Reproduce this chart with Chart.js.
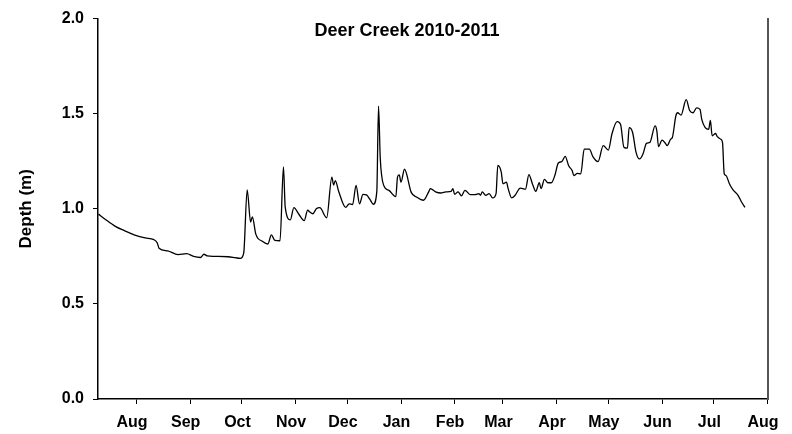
<!DOCTYPE html>
<html lang="en">
<head>
    <meta charset="UTF-8">
    <title>Deer Creek 2010-2011</title>
    <style>
        body {
            margin: 0;
            background: #fff;
        }
        .wrap {
            width: 792px;
            height: 434px;
        }
    </style>
</head>
<body>
    <div class="wrap">
        <canvas id="depth-chart"></canvas>
    </div>

    <script src="https://cdn.jsdelivr.net/npm/chart.js"></script>
    <script>
        // days counted from 1 Aug 2010
        const days = [
            -22, -18, -12, -7, -1, 5, 10, 12, 13, 18, 24, 29, 33, 37, 39, 41, 45, 53, 57, 60,
            62, 64, 66, 67, 69, 73, 76, 78, 80, 83, 85, 86, 89, 91, 94, 97, 99, 100, 102, 104,
            106, 110, 113, 114, 115, 117, 121, 123, 125, 127, 129, 131, 133, 135, 137, 139, 140, 141, 143, 146,
            150, 151, 152, 153, 155, 159, 162, 166, 169, 170, 173, 176, 179, 182, 183, 184, 186, 188, 190, 193,
            196, 198, 199, 200, 202, 204, 206, 208, 209, 211, 212, 214, 215, 217, 219, 222, 225, 227, 229, 231,
            233, 234, 236, 238, 240, 242, 244, 246, 248, 250, 252, 253, 255, 257, 259, 262, 264, 267, 270, 273,
            275, 278, 280, 282, 284, 285, 287, 289, 291, 293, 295, 297, 300, 301, 302, 304, 306, 307, 309, 310,
            312, 313, 315, 318, 320, 322, 324, 326, 327, 329, 331, 332, 333, 335, 336, 338, 339, 340, 341, 343,
            345, 348, 350, 352
        ];
        const depth = [
            0.972, 0.944, 0.906, 0.885, 0.862, 0.847, 0.838, 0.820, 0.793, 0.779, 0.759, 0.764, 0.750, 0.744, 0.761, 0.752, 0.750, 0.748, 0.743, 0.739,
            0.767, 1.100, 0.930, 0.958, 0.867, 0.828, 0.815, 0.863, 0.834, 0.832, 1.220, 1.010, 0.942, 1.006, 0.970, 0.938, 0.993, 0.985, 0.974, 1.000,
            1.006, 0.953, 1.167, 1.125, 1.148, 1.090, 1.007, 1.026, 1.022, 1.123, 1.026, 1.076, 1.073, 1.050, 1.024, 1.090, 1.540, 1.266, 1.123, 1.097,
            1.064, 1.168, 1.178, 1.140, 1.208, 1.085, 1.062, 1.045, 1.089, 1.106, 1.089, 1.083, 1.089, 1.092, 1.106, 1.076, 1.089, 1.068, 1.097, 1.075,
            1.075, 1.080, 1.071, 1.089, 1.071, 1.080, 1.057, 1.080, 1.228, 1.193, 1.132, 1.140, 1.106, 1.057, 1.071, 1.109, 1.103, 1.180, 1.132, 1.092,
            1.137, 1.106, 1.155, 1.137, 1.137, 1.175, 1.241, 1.248, 1.276, 1.226, 1.201, 1.175, 1.186, 1.184, 1.314, 1.314, 1.274, 1.248, 1.332, 1.309,
            1.392, 1.458, 1.444, 1.323, 1.319, 1.427, 1.401, 1.297, 1.262, 1.288, 1.344, 1.349, 1.436, 1.410, 1.327, 1.361, 1.344, 1.332, 1.366, 1.375,
            1.488, 1.505, 1.493, 1.574, 1.517, 1.505, 1.531, 1.523, 1.470, 1.427, 1.418, 1.465, 1.384, 1.396, 1.379, 1.366, 1.349, 1.184, 1.175, 1.132,
            1.101, 1.071, 1.036, 1.007
        ];

        // first day of each month, Aug 2010 .. Aug 2011
        const monthStarts = [0, 31, 61, 92, 122, 153, 184, 212, 243, 273, 304, 334, 365];
        const monthLabels = ['Aug', 'Sep', 'Oct', 'Nov', 'Dec', 'Jan', 'Feb', 'Mar', 'Apr', 'May', 'Jun', 'Jul', 'Aug'];
        const depthTicks = [0.0, 0.5, 1.0, 1.5, 2.0];

        const FONT = 'Liberation Sans, Arial, Helvetica, sans-serif';

        const titlePlugin = {
            id: 'insideTitle',
            afterDraw(chart) {
                const { ctx, chartArea } = chart;
                ctx.save();
                ctx.font = 'bold 18px ' + FONT;
                ctx.fillStyle = '#000';
                ctx.textAlign = 'center';
                ctx.textBaseline = 'middle';
                ctx.fillText('Deer Creek 2010-2011', chartArea.left + 309, chartArea.top + 12);
                ctx.restore();
            }
        };

        const points = days.map((d, i) => ({ x: d, y: depth[i] }));

        new Chart(document.getElementById('depth-chart'), {
            type: 'line',
            data: {
                datasets: [{
                    data: points,
                    borderColor: '#000',
                    borderWidth: 1.3,
                    pointRadius: 0,
                    fill: false,
                    cubicInterpolationMode: 'monotone'
                }]
            },
            options: {
                responsive: true,
                maintainAspectRatio: false,
                animation: false,
                layout: { padding: { top: 15, right: 0, bottom: 0, left: 0 } },
                plugins: {
                    legend: { display: false },
                    tooltip: { enabled: false }
                },
                scales: {
                    x: {
                        type: 'linear',
                        min: -22.3,
                        max: 365.2,
                        afterBuildTicks: (scale) => {
                            scale.ticks = monthStarts.map(v => ({ value: v }));
                        },
                        afterFit: (scale) => { scale.height = 35; },
                        grid: {
                            drawOnChartArea: false,
                            tickLength: 5,
                            tickColor: '#000',
                            tickWidth: 1
                        },
                        border: { color: '#000', width: 1.5 },
                        ticks: {
                            autoSkip: false,
                            maxRotation: 0,
                            padding: 9,
                            labelOffset: -4.5,
                            color: '#000',
                            font: { family: FONT, size: 16, weight: 'bold' },
                            callback: (value, index) => monthLabels[index]
                        }
                    },
                    y: {
                        min: 0,
                        max: 2,
                        afterBuildTicks: (scale) => {
                            scale.ticks = depthTicks.map(v => ({ value: v }));
                        },
                        afterFit: (scale) => { scale.width = 98; },
                        grid: {
                            drawOnChartArea: false,
                            tickLength: 5,
                            tickColor: '#000',
                            tickWidth: 1
                        },
                        border: { color: '#000', width: 1.5 },
                        ticks: {
                            padding: 9,
                            color: '#000',
                            font: { family: FONT, size: 16, weight: 'bold' },
                            callback: (value) => value.toFixed(1)
                        },
                        title: {
                            display: true,
                            text: 'Depth (m)',
                            color: '#000',
                            font: { family: FONT, size: 17, weight: 'bold' },
                            padding: { top: 16, bottom: 0 }
                        }
                    },
                    yRight: {
                        position: 'right',
                        min: 0,
                        max: 2,
                        afterFit: (scale) => { scale.width = 22; },
                        grid: { drawOnChartArea: false, drawTicks: false },
                        border: { color: '#555', width: 2 },
                        ticks: { display: false }
                    }
                }
            },
            plugins: [titlePlugin]
        });
    </script>
</body>
</html>
